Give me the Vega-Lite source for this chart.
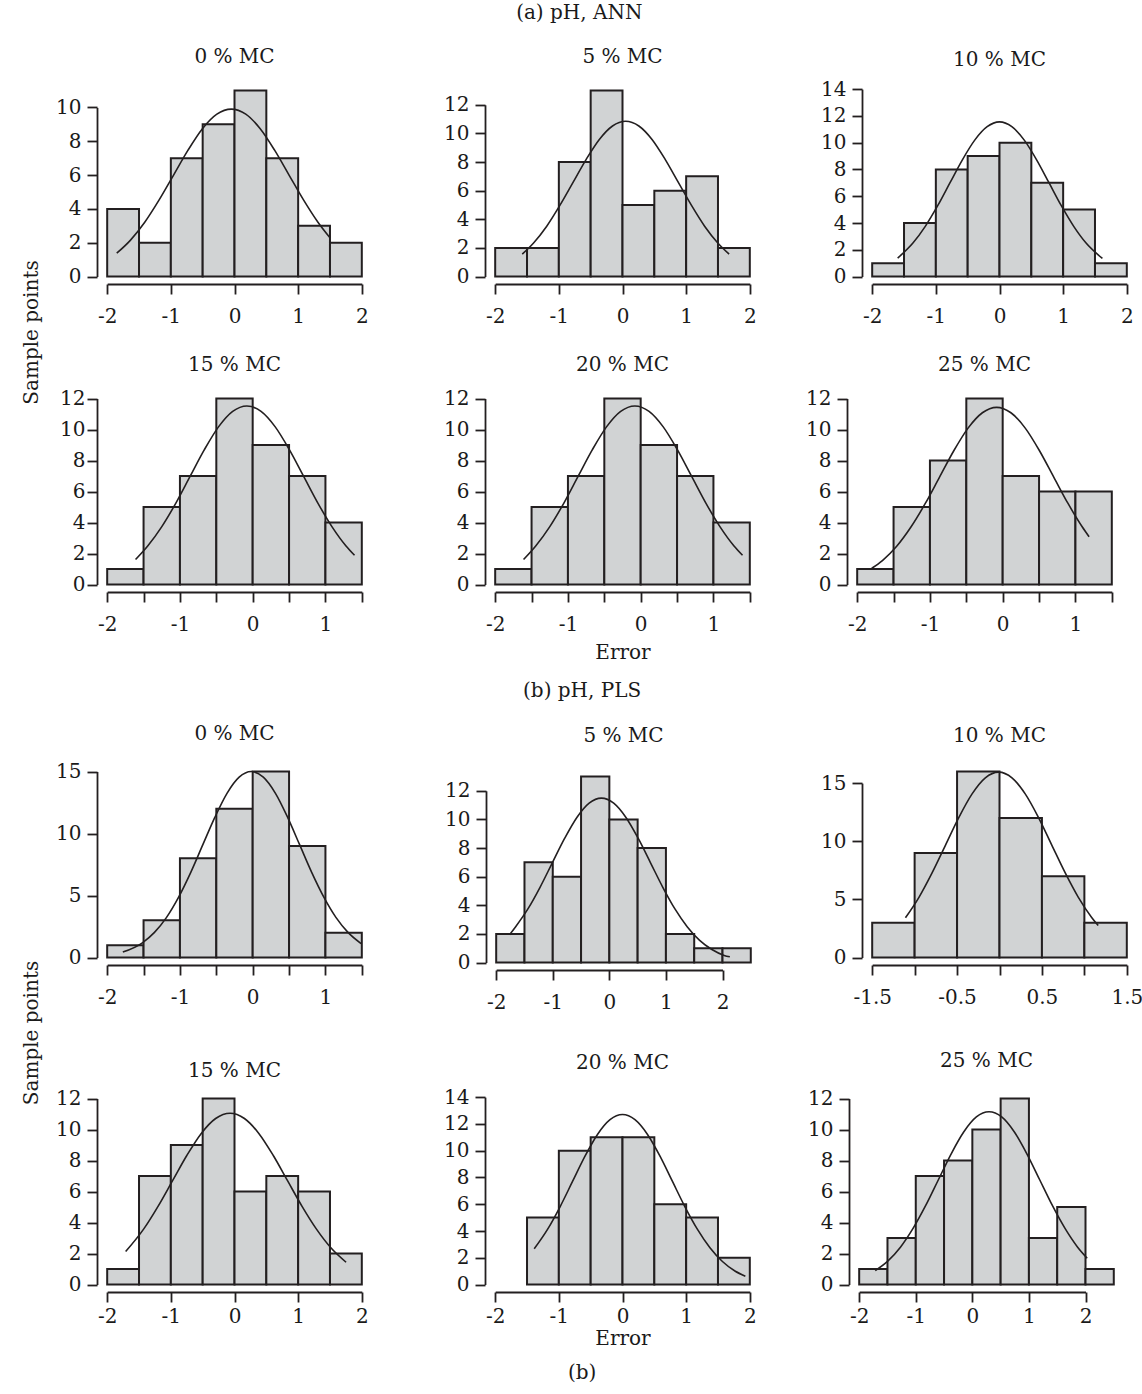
{
"$schema": "https://vega.github.io/schema/vega-lite/v6.json",
"padding": {"left": 21, "top": 3, "right": 0, "bottom": 0},
"background": "white",
"datasets": {
"bars": [
{"p":"A1","x0":-2,"x1":-1.5,"n":4},{"p":"A1","x0":-1.5,"x1":-1,"n":2},{"p":"A1","x0":-1,"x1":-0.5,"n":7},{"p":"A1","x0":-0.5,"x1":0,"n":9},{"p":"A1","x0":0,"x1":0.5,"n":11},{"p":"A1","x0":0.5,"x1":1,"n":7},{"p":"A1","x0":1,"x1":1.5,"n":3},{"p":"A1","x0":1.5,"x1":2,"n":2},
{"p":"A2","x0":-2,"x1":-1.5,"n":2},{"p":"A2","x0":-1.5,"x1":-1,"n":2},{"p":"A2","x0":-1,"x1":-0.5,"n":8},{"p":"A2","x0":-0.5,"x1":0,"n":13},{"p":"A2","x0":0,"x1":0.5,"n":5},{"p":"A2","x0":0.5,"x1":1,"n":6},{"p":"A2","x0":1,"x1":1.5,"n":7},{"p":"A2","x0":1.5,"x1":2,"n":2},
{"p":"A3","x0":-2,"x1":-1.5,"n":1},{"p":"A3","x0":-1.5,"x1":-1,"n":4},{"p":"A3","x0":-1,"x1":-0.5,"n":8},{"p":"A3","x0":-0.5,"x1":0,"n":9},{"p":"A3","x0":0,"x1":0.5,"n":10},{"p":"A3","x0":0.5,"x1":1,"n":7},{"p":"A3","x0":1,"x1":1.5,"n":5},{"p":"A3","x0":1.5,"x1":2,"n":1},
{"p":"A4","x0":-2,"x1":-1.5,"n":1},{"p":"A4","x0":-1.5,"x1":-1,"n":5},{"p":"A4","x0":-1,"x1":-0.5,"n":7},{"p":"A4","x0":-0.5,"x1":0,"n":12},{"p":"A4","x0":0,"x1":0.5,"n":9},{"p":"A4","x0":0.5,"x1":1,"n":7},{"p":"A4","x0":1,"x1":1.5,"n":4},
{"p":"A5","x0":-2,"x1":-1.5,"n":1},{"p":"A5","x0":-1.5,"x1":-1,"n":5},{"p":"A5","x0":-1,"x1":-0.5,"n":7},{"p":"A5","x0":-0.5,"x1":0,"n":12},{"p":"A5","x0":0,"x1":0.5,"n":9},{"p":"A5","x0":0.5,"x1":1,"n":7},{"p":"A5","x0":1,"x1":1.5,"n":4},
{"p":"A6","x0":-2,"x1":-1.5,"n":1},{"p":"A6","x0":-1.5,"x1":-1,"n":5},{"p":"A6","x0":-1,"x1":-0.5,"n":8},{"p":"A6","x0":-0.5,"x1":0,"n":12},{"p":"A6","x0":0,"x1":0.5,"n":7},{"p":"A6","x0":0.5,"x1":1,"n":6},{"p":"A6","x0":1,"x1":1.5,"n":6},
{"p":"B1","x0":-2,"x1":-1.5,"n":1},{"p":"B1","x0":-1.5,"x1":-1,"n":3},{"p":"B1","x0":-1,"x1":-0.5,"n":8},{"p":"B1","x0":-0.5,"x1":0,"n":12},{"p":"B1","x0":0,"x1":0.5,"n":15},{"p":"B1","x0":0.5,"x1":1,"n":9},{"p":"B1","x0":1,"x1":1.5,"n":2},
{"p":"B2","x0":-2,"x1":-1.5,"n":2},{"p":"B2","x0":-1.5,"x1":-1,"n":7},{"p":"B2","x0":-1,"x1":-0.5,"n":6},{"p":"B2","x0":-0.5,"x1":0,"n":13},{"p":"B2","x0":0,"x1":0.5,"n":10},{"p":"B2","x0":0.5,"x1":1,"n":8},{"p":"B2","x0":1,"x1":1.5,"n":2},{"p":"B2","x0":1.5,"x1":2,"n":1},{"p":"B2","x0":2,"x1":2.5,"n":1},
{"p":"B3","x0":-1.5,"x1":-1,"n":3},{"p":"B3","x0":-1,"x1":-0.5,"n":9},{"p":"B3","x0":-0.5,"x1":0,"n":16},{"p":"B3","x0":0,"x1":0.5,"n":12},{"p":"B3","x0":0.5,"x1":1,"n":7},{"p":"B3","x0":1,"x1":1.5,"n":3},
{"p":"B4","x0":-2,"x1":-1.5,"n":1},{"p":"B4","x0":-1.5,"x1":-1,"n":7},{"p":"B4","x0":-1,"x1":-0.5,"n":9},{"p":"B4","x0":-0.5,"x1":0,"n":12},{"p":"B4","x0":0,"x1":0.5,"n":6},{"p":"B4","x0":0.5,"x1":1,"n":7},{"p":"B4","x0":1,"x1":1.5,"n":6},{"p":"B4","x0":1.5,"x1":2,"n":2},
{"p":"B5","x0":-1.5,"x1":-1,"n":5},{"p":"B5","x0":-1,"x1":-0.5,"n":10},{"p":"B5","x0":-0.5,"x1":0,"n":11},{"p":"B5","x0":0,"x1":0.5,"n":11},{"p":"B5","x0":0.5,"x1":1,"n":6},{"p":"B5","x0":1,"x1":1.5,"n":5},{"p":"B5","x0":1.5,"x1":2,"n":2},
{"p":"B6","x0":-2,"x1":-1.5,"n":1},{"p":"B6","x0":-1.5,"x1":-1,"n":3},{"p":"B6","x0":-1,"x1":-0.5,"n":7},{"p":"B6","x0":-0.5,"x1":0,"n":8},{"p":"B6","x0":0,"x1":0.5,"n":10},{"p":"B6","x0":0.5,"x1":1,"n":12},{"p":"B6","x0":1,"x1":1.5,"n":3},{"p":"B6","x0":1.5,"x1":2,"n":5},{"p":"B6","x0":2,"x1":2.5,"n":1}
],
"curves": [
{"p":"A1","x":-1.85,"y":1.38},{"p":"A1","x":-1.637,"y":2.14},{"p":"A1","x":-1.41,"y":3.21},{"p":"A1","x":-1.184,"y":4.53},{"p":"A1","x":-0.957,"y":6.0},{"p":"A1","x":-0.73,"y":7.47},{"p":"A1","x":-0.504,"y":8.74},{"p":"A1","x":-0.277,"y":9.6},{"p":"A1","x":-0.05,"y":9.9},{"p":"A1","x":0.177,"y":9.6},{"p":"A1","x":0.404,"y":8.74},{"p":"A1","x":0.63,"y":7.47},{"p":"A1","x":0.857,"y":6.0},{"p":"A1","x":1.084,"y":4.53},{"p":"A1","x":1.311,"y":3.21},{"p":"A1","x":1.5,"y":2.29},
{"p":"A2","x":-1.575,"y":1.57},{"p":"A2","x":-1.397,"y":2.35},{"p":"A2","x":-1.19,"y":3.52},{"p":"A2","x":-0.984,"y":4.97},{"p":"A2","x":-0.777,"y":6.58},{"p":"A2","x":-0.57,"y":8.19},{"p":"A2","x":-0.364,"y":9.58},{"p":"A2","x":-0.157,"y":10.52},{"p":"A2","x":0.05,"y":10.85},{"p":"A2","x":0.257,"y":10.52},{"p":"A2","x":0.464,"y":9.58},{"p":"A2","x":0.67,"y":8.19},{"p":"A2","x":0.877,"y":6.58},{"p":"A2","x":1.084,"y":4.97},{"p":"A2","x":1.29,"y":3.52},{"p":"A2","x":1.497,"y":2.35},{"p":"A2","x":1.675,"y":1.57},
{"p":"A3","x":-1.6,"y":1.38},{"p":"A3","x":-1.36,"y":2.5},{"p":"A3","x":-1.166,"y":3.75},{"p":"A3","x":-0.971,"y":5.29},{"p":"A3","x":-0.777,"y":7.01},{"p":"A3","x":-0.583,"y":8.72},{"p":"A3","x":-0.389,"y":10.19},{"p":"A3","x":-0.194,"y":11.19},{"p":"A3","x":0,"y":11.55},{"p":"A3","x":0.194,"y":11.19},{"p":"A3","x":0.389,"y":10.19},{"p":"A3","x":0.583,"y":8.72},{"p":"A3","x":0.777,"y":7.01},{"p":"A3","x":0.971,"y":5.29},{"p":"A3","x":1.166,"y":3.75},{"p":"A3","x":1.36,"y":2.5},{"p":"A3","x":1.617,"y":1.35},
{"p":"A4","x":-1.61,"y":1.62},{"p":"A4","x":-1.443,"y":2.49},{"p":"A4","x":-1.249,"y":3.74},{"p":"A4","x":-1.054,"y":5.27},{"p":"A4","x":-0.859,"y":6.99},{"p":"A4","x":-0.664,"y":8.7},{"p":"A4","x":-0.47,"y":10.17},{"p":"A4","x":-0.275,"y":11.17},{"p":"A4","x":-0.08,"y":11.52},{"p":"A4","x":0.115,"y":11.17},{"p":"A4","x":0.31,"y":10.17},{"p":"A4","x":0.504,"y":8.7},{"p":"A4","x":0.699,"y":6.99},{"p":"A4","x":0.894,"y":5.27},{"p":"A4","x":1.089,"y":3.74},{"p":"A4","x":1.283,"y":2.49},{"p":"A4","x":1.4,"y":1.89},
{"p":"A5","x":-1.61,"y":1.62},{"p":"A5","x":-1.443,"y":2.49},{"p":"A5","x":-1.249,"y":3.74},{"p":"A5","x":-1.054,"y":5.27},{"p":"A5","x":-0.859,"y":6.99},{"p":"A5","x":-0.664,"y":8.7},{"p":"A5","x":-0.47,"y":10.17},{"p":"A5","x":-0.275,"y":11.17},{"p":"A5","x":-0.08,"y":11.52},{"p":"A5","x":0.115,"y":11.17},{"p":"A5","x":0.31,"y":10.17},{"p":"A5","x":0.504,"y":8.7},{"p":"A5","x":0.699,"y":6.99},{"p":"A5","x":0.894,"y":5.27},{"p":"A5","x":1.089,"y":3.74},{"p":"A5","x":1.283,"y":2.49},{"p":"A5","x":1.4,"y":1.89},
{"p":"A6","x":-1.8,"y":1.05},{"p":"A6","x":-1.653,"y":1.55},{"p":"A6","x":-1.457,"y":2.47},{"p":"A6","x":-1.261,"y":3.71},{"p":"A6","x":-1.064,"y":5.23},{"p":"A6","x":-0.868,"y":6.93},{"p":"A6","x":-0.672,"y":8.63},{"p":"A6","x":-0.476,"y":10.09},{"p":"A6","x":-0.279,"y":11.08},{"p":"A6","x":-0.083,"y":11.43},{"p":"A6","x":0.113,"y":11.08},{"p":"A6","x":0.31,"y":10.09},{"p":"A6","x":0.506,"y":8.63},{"p":"A6","x":0.702,"y":6.93},{"p":"A6","x":0.898,"y":5.23},{"p":"A6","x":1.095,"y":3.71},{"p":"A6","x":1.188,"y":3.08},
{"p":"B1","x":-1.785,"y":0.44},{"p":"B1","x":-1.516,"y":1.19},{"p":"B1","x":-1.35,"y":2.03},{"p":"B1","x":-1.184,"y":3.24},{"p":"B1","x":-1.018,"y":4.87},{"p":"B1","x":-0.851,"y":6.87},{"p":"B1","x":-0.685,"y":9.1},{"p":"B1","x":-0.519,"y":11.32},{"p":"B1","x":-0.353,"y":13.24},{"p":"B1","x":-0.186,"y":14.54},{"p":"B1","x":-0.02,"y":15.0},{"p":"B1","x":0.146,"y":14.54},{"p":"B1","x":0.313,"y":13.24},{"p":"B1","x":0.479,"y":11.32},{"p":"B1","x":0.645,"y":9.1},{"p":"B1","x":0.811,"y":6.87},{"p":"B1","x":0.978,"y":4.87},{"p":"B1","x":1.144,"y":3.24},{"p":"B1","x":1.31,"y":2.03},{"p":"B1","x":1.49,"y":1.13},
{"p":"B2","x":-1.763,"y":1.95},{"p":"B2","x":-1.659,"y":2.49},{"p":"B2","x":-1.442,"y":3.73},{"p":"B2","x":-1.225,"y":5.26},{"p":"B2","x":-1.008,"y":6.97},{"p":"B2","x":-0.791,"y":8.67},{"p":"B2","x":-0.574,"y":10.14},{"p":"B2","x":-0.357,"y":11.14},{"p":"B2","x":-0.14,"y":11.49},{"p":"B2","x":0.077,"y":11.14},{"p":"B2","x":0.294,"y":10.14},{"p":"B2","x":0.511,"y":8.67},{"p":"B2","x":0.728,"y":6.97},{"p":"B2","x":0.945,"y":5.26},{"p":"B2","x":1.162,"y":3.73},{"p":"B2","x":1.379,"y":2.49},{"p":"B2","x":1.596,"y":1.55},{"p":"B2","x":1.813,"y":0.91},{"p":"B2","x":2.03,"y":0.5},{"p":"B2","x":2.13,"y":0.4},
{"p":"B3","x":-1.108,"y":3.42},{"p":"B3","x":-0.949,"y":5.18},{"p":"B3","x":-0.793,"y":7.3},{"p":"B3","x":-0.636,"y":9.67},{"p":"B3","x":-0.48,"y":12.03},{"p":"B3","x":-0.323,"y":14.07},{"p":"B3","x":-0.167,"y":15.45},{"p":"B3","x":-0.01,"y":15.94},{"p":"B3","x":0.147,"y":15.45},{"p":"B3","x":0.303,"y":14.07},{"p":"B3","x":0.46,"y":12.03},{"p":"B3","x":0.616,"y":9.67},{"p":"B3","x":0.773,"y":7.3},{"p":"B3","x":0.929,"y":5.18},{"p":"B3","x":1.086,"y":3.45},{"p":"B3","x":1.163,"y":2.75},
{"p":"B4","x":-1.71,"y":2.13},{"p":"B4","x":-1.425,"y":3.59},{"p":"B4","x":-1.199,"y":5.06},{"p":"B4","x":-0.973,"y":6.7},{"p":"B4","x":-0.747,"y":8.34},{"p":"B4","x":-0.522,"y":9.75},{"p":"B4","x":-0.296,"y":10.71},{"p":"B4","x":-0.07,"y":11.05},{"p":"B4","x":0.156,"y":10.71},{"p":"B4","x":0.382,"y":9.75},{"p":"B4","x":0.607,"y":8.34},{"p":"B4","x":0.833,"y":6.7},{"p":"B4","x":1.059,"y":5.06},{"p":"B4","x":1.285,"y":3.59},{"p":"B4","x":1.51,"y":2.39},{"p":"B4","x":1.753,"y":1.44},
{"p":"B5","x":-1.387,"y":2.67},{"p":"B5","x":-1.178,"y":4.12},{"p":"B5","x":-0.981,"y":5.81},{"p":"B5","x":-0.785,"y":7.7},{"p":"B5","x":-0.589,"y":9.59},{"p":"B5","x":-0.393,"y":11.21},{"p":"B5","x":-0.196,"y":12.31},{"p":"B5","x":0,"y":12.7},{"p":"B5","x":0.196,"y":12.31},{"p":"B5","x":0.393,"y":11.21},{"p":"B5","x":0.589,"y":9.59},{"p":"B5","x":0.785,"y":7.7},{"p":"B5","x":0.981,"y":5.81},{"p":"B5","x":1.178,"y":4.12},{"p":"B5","x":1.374,"y":2.75},{"p":"B5","x":1.57,"y":1.72},{"p":"B5","x":1.766,"y":1.01},{"p":"B5","x":1.93,"y":0.62},
{"p":"B6","x":-1.716,"y":0.9},{"p":"B6","x":-1.495,"y":1.51},{"p":"B6","x":-1.271,"y":2.41},{"p":"B6","x":-1.048,"y":3.62},{"p":"B6","x":-0.824,"y":5.1},{"p":"B6","x":-0.6,"y":6.76},{"p":"B6","x":-0.376,"y":8.42},{"p":"B6","x":-0.153,"y":9.84},{"p":"B6","x":0.071,"y":10.81},{"p":"B6","x":0.295,"y":11.15},{"p":"B6","x":0.519,"y":10.81},{"p":"B6","x":0.743,"y":9.84},{"p":"B6","x":0.966,"y":8.42},{"p":"B6","x":1.19,"y":6.76},{"p":"B6","x":1.414,"y":5.1},{"p":"B6","x":1.638,"y":3.62},{"p":"B6","x":1.861,"y":2.41},{"p":"B6","x":2.03,"y":1.7}
]
},
"title": {"text": "(b)", "orient": "bottom", "anchor": "middle", "frame": "bounds", "offset": 14},
"spacing": 18,
"vconcat": [
{"title": {"text": "(a) pH, ANN", "anchor": "middle", "offset": 24},
 "vconcat": [
 {"title": {"text": "Sample points", "orient": "left", "anchor": "middle", "offset": 14, "dx": 22},
  "spacing": 28,
  "vconcat": [
  {"spacing": 40, "hconcat": [
   {"width": 306, "height": 201, "title": {"text": "0 % MC", "anchor": "start", "align": "center", "dx": 137.5, "frame": "group", "offset": 0, "baseline": "alphabetic"},
    "layer": [
     {"data": {"name": "bars"}, "transform": [{"filter": "datum.p === 'A1'"}], "mark": {"type": "rect", "fill": "#d1d3d4", "stroke": "#231f20", "strokeWidth": 2},
      "encoding": {"x": {"field": "x0", "type": "quantitative", "scale": {"domain": [-2, 2], "range": [10.19, 264.81], "nice": false, "zero": false}, "axis": {"values": [-2, -1, 0, 1, 2], "title": null, "labelExpr": "toString(datum.value)"}},
       "x2": {"field": "x1"},
       "y": {"field": "n", "type": "quantitative", "scale": {"domain": [0, 10], "range": [193.56, 24.4], "nice": false, "zero": false}, "axis": {"values": [0, 2, 4, 6, 8, 10], "title": null, "labelExpr": "toString(datum.value)"}},
       "y2": {"datum": 0}}},
     {"data": {"name": "curves"}, "transform": [{"filter": "datum.p === 'A1'"}], "mark": {"type": "line", "color": "#231f20", "strokeWidth": 1.6, "interpolate": "monotone"},
      "encoding": {"x": {"field": "x", "type": "quantitative"}, "y": {"field": "y", "type": "quantitative"}}}
    ]},
   {"width": 295, "height": 201, "title": {"text": "5 % MC", "anchor": "start", "align": "center", "dx": 137.5, "frame": "group", "offset": 0, "baseline": "alphabetic"},
    "layer": [
     {"data": {"name": "bars"}, "transform": [{"filter": "datum.p === 'A2'"}], "mark": {"type": "rect", "fill": "#d1d3d4", "stroke": "#231f20", "strokeWidth": 2},
      "encoding": {"x": {"field": "x0", "type": "quantitative", "scale": {"domain": [-2, 2], "range": [10.19, 264.81], "nice": false, "zero": false}, "axis": {"values": [-2, -1, 0, 1, 2], "title": null, "labelExpr": "toString(datum.value)"}},
       "x2": {"field": "x1"},
       "y": {"field": "n", "type": "quantitative", "scale": {"domain": [0, 12], "range": [193.56, 21.8], "nice": false, "zero": false}, "axis": {"values": [0, 2, 4, 6, 8, 10, 12], "title": null, "labelExpr": "toString(datum.value)"}},
       "y2": {"datum": 0}}},
     {"data": {"name": "curves"}, "transform": [{"filter": "datum.p === 'A2'"}], "mark": {"type": "line", "color": "#231f20", "strokeWidth": 1.6, "interpolate": "monotone"},
      "encoding": {"x": {"field": "x", "type": "quantitative"}, "y": {"field": "y", "type": "quantitative"}}}
    ]},
   {"width": 275, "height": 201, "title": {"text": "10 % MC", "anchor": "start", "align": "center", "dx": 137.5, "frame": "group", "offset": -7, "baseline": "alphabetic"},
    "layer": [
     {"data": {"name": "bars"}, "transform": [{"filter": "datum.p === 'A3'"}], "mark": {"type": "rect", "fill": "#d1d3d4", "stroke": "#231f20", "strokeWidth": 2},
      "encoding": {"x": {"field": "x0", "type": "quantitative", "scale": {"domain": [-2, 2], "range": [10.19, 264.81], "nice": false, "zero": false}, "axis": {"values": [-2, -1, 0, 1, 2], "title": null, "labelExpr": "toString(datum.value)"}},
       "x2": {"field": "x1"},
       "y": {"field": "n", "type": "quantitative", "scale": {"domain": [0, 14], "range": [193.56, 6.1], "nice": false, "zero": false}, "axis": {"values": [0, 2, 4, 6, 8, 10, 12, 14], "title": null, "labelExpr": "toString(datum.value)"}},
       "y2": {"datum": 0}}},
     {"data": {"name": "curves"}, "transform": [{"filter": "datum.p === 'A3'"}], "mark": {"type": "line", "color": "#231f20", "strokeWidth": 1.6, "interpolate": "monotone"},
      "encoding": {"x": {"field": "x", "type": "quantitative"}, "y": {"field": "y", "type": "quantitative"}}}
    ]}
  ]},
  {"spacing": 40, "hconcat": [
   {"width": 306, "height": 201, "title": {"text": "15 % MC", "anchor": "start", "align": "center", "dx": 137.5, "frame": "group", "offset": -2, "baseline": "alphabetic"},
    "layer": [
     {"data": {"name": "bars"}, "transform": [{"filter": "datum.p === 'A4'"}], "mark": {"type": "rect", "fill": "#d1d3d4", "stroke": "#231f20", "strokeWidth": 2},
      "encoding": {"x": {"field": "x0", "type": "quantitative", "scale": {"domain": [-2, 1.5], "range": [10.19, 264.81], "nice": false, "zero": false}, "axis": {"values": [-2, -1.5, -1, -0.5, 0, 0.5, 1, 1.5], "title": null, "labelExpr": "datum.value % 1 === 0 ? toString(datum.value) : ''"}},
       "x2": {"field": "x1"},
       "y": {"field": "n", "type": "quantitative", "scale": {"domain": [0, 12], "range": [193.56, 7.5], "nice": false, "zero": false}, "axis": {"values": [0, 2, 4, 6, 8, 10, 12], "title": null, "labelPadding": 2, "labelExpr": "toString(datum.value)"}},
       "y2": {"datum": 0}}},
     {"data": {"name": "curves"}, "transform": [{"filter": "datum.p === 'A4'"}], "mark": {"type": "line", "color": "#231f20", "strokeWidth": 1.6, "interpolate": "monotone"},
      "encoding": {"x": {"field": "x", "type": "quantitative"}, "y": {"field": "y", "type": "quantitative"}}}
    ]},
   {"width": 280, "height": 201, "title": {"text": "20 % MC", "anchor": "start", "align": "center", "dx": 137.5, "frame": "group", "offset": -2, "baseline": "alphabetic"},
    "layer": [
     {"data": {"name": "bars"}, "transform": [{"filter": "datum.p === 'A5'"}], "mark": {"type": "rect", "fill": "#d1d3d4", "stroke": "#231f20", "strokeWidth": 2},
      "encoding": {"x": {"field": "x0", "type": "quantitative", "scale": {"domain": [-2, 1.5], "range": [10.19, 264.81], "nice": false, "zero": false}, "axis": {"values": [-2, -1.5, -1, -0.5, 0, 0.5, 1, 1.5], "title": "Error", "titlePadding": 8, "labelExpr": "datum.value % 1 === 0 ? toString(datum.value) : ''"}},
       "x2": {"field": "x1"},
       "y": {"field": "n", "type": "quantitative", "scale": {"domain": [0, 12], "range": [193.56, 7.5], "nice": false, "zero": false}, "axis": {"values": [0, 2, 4, 6, 8, 10, 12], "title": null, "labelExpr": "toString(datum.value)"}},
       "y2": {"datum": 0}}},
     {"data": {"name": "curves"}, "transform": [{"filter": "datum.p === 'A5'"}], "mark": {"type": "line", "color": "#231f20", "strokeWidth": 1.6, "interpolate": "monotone"},
      "encoding": {"x": {"field": "x", "type": "quantitative"}, "y": {"field": "y", "type": "quantitative"}}}
    ]},
   {"width": 275, "height": 201, "title": {"text": "25 % MC", "anchor": "start", "align": "center", "dx": 137.5, "frame": "group", "offset": -2, "baseline": "alphabetic"},
    "layer": [
     {"data": {"name": "bars"}, "transform": [{"filter": "datum.p === 'A6'"}], "mark": {"type": "rect", "fill": "#d1d3d4", "stroke": "#231f20", "strokeWidth": 2},
      "encoding": {"x": {"field": "x0", "type": "quantitative", "scale": {"domain": [-2, 1.5], "range": [10.19, 264.81], "nice": false, "zero": false}, "axis": {"values": [-2, -1.5, -1, -0.5, 0, 0.5, 1, 1.5], "title": null, "labelExpr": "datum.value % 1 === 0 ? toString(datum.value) : ''"}},
       "x2": {"field": "x1"},
       "y": {"field": "n", "type": "quantitative", "scale": {"domain": [0, 12], "range": [193.56, 7.5], "nice": false, "zero": false}, "axis": {"values": [0, 2, 4, 6, 8, 10, 12], "title": null, "labelExpr": "toString(datum.value)"}},
       "y2": {"datum": 0}}},
     {"data": {"name": "curves"}, "transform": [{"filter": "datum.p === 'A6'"}], "mark": {"type": "line", "color": "#231f20", "strokeWidth": 1.6, "interpolate": "monotone"},
      "encoding": {"x": {"field": "x", "type": "quantitative"}, "y": {"field": "y", "type": "quantitative"}}}
    ]}
  ]}
  ]}
 ]},
{"title": {"text": "(b) pH, PLS", "anchor": "middle", "offset": 23},
 "vconcat": [
 {"title": {"text": "Sample points", "orient": "left", "anchor": "middle", "offset": 14, "dx": 3},
  "spacing": 38,
  "vconcat": [
  {"spacing": 40, "hconcat": [
   {"width": 307, "height": 201, "title": {"text": "0 % MC", "anchor": "start", "align": "center", "dx": 137.5, "frame": "group", "offset": 2, "baseline": "alphabetic"},
    "layer": [
     {"data": {"name": "bars"}, "transform": [{"filter": "datum.p === 'B1'"}], "mark": {"type": "rect", "fill": "#d1d3d4", "stroke": "#231f20", "strokeWidth": 2},
      "encoding": {"x": {"field": "x0", "type": "quantitative", "scale": {"domain": [-2, 1.5], "range": [10.19, 264.81], "nice": false, "zero": false}, "axis": {"values": [-2, -1.5, -1, -0.5, 0, 0.5, 1, 1.5], "title": null, "labelExpr": "datum.value % 1 === 0 ? toString(datum.value) : ''"}},
       "x2": {"field": "x1"},
       "y": {"field": "n", "type": "quantitative", "scale": {"domain": [0, 15], "range": [193.56, 7.5], "nice": false, "zero": false}, "axis": {"values": [0, 5, 10, 15], "title": null, "labelExpr": "toString(datum.value)"}},
       "y2": {"datum": 0}}},
     {"data": {"name": "curves"}, "transform": [{"filter": "datum.p === 'B1'"}], "mark": {"type": "line", "color": "#231f20", "strokeWidth": 1.6, "interpolate": "monotone"},
      "encoding": {"x": {"field": "x", "type": "quantitative"}, "y": {"field": "y", "type": "quantitative"}}}
    ]},
   {"width": 294, "height": 201, "title": {"text": "5 % MC", "anchor": "start", "align": "center", "dx": 137.5, "frame": "group", "offset": 2, "baseline": "alphabetic"},
    "layer": [
     {"data": {"name": "bars"}, "transform": [{"filter": "datum.p === 'B2'"}], "mark": {"type": "rect", "fill": "#d1d3d4", "stroke": "#231f20", "strokeWidth": 2},
      "encoding": {"x": {"field": "x0", "type": "quantitative", "scale": {"domain": [-2, 2], "range": [10.19, 236.5], "nice": false, "zero": false}, "axis": {"values": [-2, -1, 0, 1, 2], "title": null, "offset": 5, "labelExpr": "toString(datum.value)"}},
       "x2": {"field": "x1"},
       "y": {"field": "n", "type": "quantitative", "scale": {"domain": [0, 12], "range": [198.56, 26.8], "nice": false, "zero": false}, "axis": {"values": [0, 2, 4, 6, 8, 10, 12], "title": null, "labelExpr": "toString(datum.value)"}},
       "y2": {"datum": 0}}},
     {"data": {"name": "curves"}, "transform": [{"filter": "datum.p === 'B2'"}], "mark": {"type": "line", "color": "#231f20", "strokeWidth": 1.6, "interpolate": "monotone"},
      "encoding": {"x": {"field": "x", "type": "quantitative"}, "y": {"field": "y", "type": "quantitative"}}}
    ]},
   {"width": 275, "height": 201, "title": {"text": "10 % MC", "anchor": "start", "align": "center", "dx": 137.5, "frame": "group", "offset": 2, "baseline": "alphabetic"},
    "layer": [
     {"data": {"name": "bars"}, "transform": [{"filter": "datum.p === 'B3'"}], "mark": {"type": "rect", "fill": "#d1d3d4", "stroke": "#231f20", "strokeWidth": 2},
      "encoding": {"x": {"field": "x0", "type": "quantitative", "scale": {"domain": [-1.5, 1.5], "range": [10.19, 264.81], "nice": false, "zero": false}, "axis": {"values": [-1.5, -1, -0.5, 0, 0.5, 1, 1.5], "title": null, "labelExpr": "datum.value % 1 !== 0 ? toString(datum.value) : ''"}},
       "x2": {"field": "x1"},
       "y": {"field": "n", "type": "quantitative", "scale": {"domain": [0, 15], "range": [193.56, 19.1], "nice": false, "zero": false}, "axis": {"values": [0, 5, 10, 15], "title": null, "labelExpr": "toString(datum.value)"}},
       "y2": {"datum": 0}}},
     {"data": {"name": "curves"}, "transform": [{"filter": "datum.p === 'B3'"}], "mark": {"type": "line", "color": "#231f20", "strokeWidth": 1.6, "interpolate": "monotone"},
      "encoding": {"x": {"field": "x", "type": "quantitative"}, "y": {"field": "y", "type": "quantitative"}}}
    ]}
  ]},
  {"spacing": 40, "hconcat": [
   {"width": 306, "height": 201, "title": {"text": "15 % MC", "anchor": "start", "align": "center", "dx": 137.5, "frame": "group", "offset": -8, "baseline": "alphabetic"},
    "layer": [
     {"data": {"name": "bars"}, "transform": [{"filter": "datum.p === 'B4'"}], "mark": {"type": "rect", "fill": "#d1d3d4", "stroke": "#231f20", "strokeWidth": 2},
      "encoding": {"x": {"field": "x0", "type": "quantitative", "scale": {"domain": [-2, 2], "range": [10.19, 264.81], "nice": false, "zero": false}, "axis": {"values": [-2, -1, 0, 1, 2], "title": null, "labelPadding": 4.5, "labelExpr": "toString(datum.value)"}},
       "x2": {"field": "x1"},
       "y": {"field": "n", "type": "quantitative", "scale": {"domain": [0, 12], "range": [193.56, 7.5], "nice": false, "zero": false}, "axis": {"values": [0, 2, 4, 6, 8, 10, 12], "title": null, "labelExpr": "toString(datum.value)"}},
       "y2": {"datum": 0}}},
     {"data": {"name": "curves"}, "transform": [{"filter": "datum.p === 'B4'"}], "mark": {"type": "line", "color": "#231f20", "strokeWidth": 1.6, "interpolate": "monotone"},
      "encoding": {"x": {"field": "x", "type": "quantitative"}, "y": {"field": "y", "type": "quantitative"}}}
    ]},
   {"width": 282, "height": 201, "title": {"text": "20 % MC", "anchor": "start", "align": "center", "dx": 137.5, "frame": "group", "offset": -2, "baseline": "alphabetic"},
    "layer": [
     {"data": {"name": "bars"}, "transform": [{"filter": "datum.p === 'B5'"}], "mark": {"type": "rect", "fill": "#d1d3d4", "stroke": "#231f20", "strokeWidth": 2},
      "encoding": {"x": {"field": "x0", "type": "quantitative", "scale": {"domain": [-2, 2], "range": [10.19, 264.81], "nice": false, "zero": false}, "axis": {"values": [-2, -1, 0, 1, 2], "title": "Error", "titlePadding": 2, "labelPadding": 4.5, "labelExpr": "toString(datum.value)"}},
       "x2": {"field": "x1"},
       "y": {"field": "n", "type": "quantitative", "scale": {"domain": [0, 14], "range": [193.56, 6.1], "nice": false, "zero": false}, "axis": {"values": [0, 2, 4, 6, 8, 10, 12, 14], "title": null, "labelExpr": "toString(datum.value)"}},
       "y2": {"datum": 0}}},
     {"data": {"name": "curves"}, "transform": [{"filter": "datum.p === 'B5'"}], "mark": {"type": "line", "color": "#231f20", "strokeWidth": 1.6, "interpolate": "monotone"},
      "encoding": {"x": {"field": "x", "type": "quantitative"}, "y": {"field": "y", "type": "quantitative"}}}
    ]},
   {"width": 275, "height": 201, "title": {"text": "25 % MC", "anchor": "start", "align": "center", "dx": 137.5, "frame": "group", "offset": 2, "baseline": "alphabetic"},
    "layer": [
     {"data": {"name": "bars"}, "transform": [{"filter": "datum.p === 'B6'"}], "mark": {"type": "rect", "fill": "#d1d3d4", "stroke": "#231f20", "strokeWidth": 2},
      "encoding": {"x": {"field": "x0", "type": "quantitative", "scale": {"domain": [-2, 2], "range": [10.19, 236.5], "nice": false, "zero": false}, "axis": {"values": [-2, -1, 0, 1, 2], "title": null, "labelPadding": 4.5, "labelExpr": "toString(datum.value)"}},
       "x2": {"field": "x1"},
       "y": {"field": "n", "type": "quantitative", "scale": {"domain": [0, 12], "range": [193.56, 7.5], "nice": false, "zero": false}, "axis": {"values": [0, 2, 4, 6, 8, 10, 12], "title": null, "labelExpr": "toString(datum.value)"}},
       "y2": {"datum": 0}}},
     {"data": {"name": "curves"}, "transform": [{"filter": "datum.p === 'B6'"}], "mark": {"type": "line", "color": "#231f20", "strokeWidth": 1.6, "interpolate": "monotone"},
      "encoding": {"x": {"field": "x", "type": "quantitative"}, "y": {"field": "y", "type": "quantitative"}}}
    ]}
  ]}
  ]}
 ]}
],
"config": {
 "font": "DejaVu Serif",
 "view": {"stroke": null},
 "title": {"font": "DejaVu Serif", "fontSize": 20, "fontWeight": "normal", "color": "#1a1a1a"},
 "axis": {"grid": false, "tickCount": 8, "domainColor": "#231f20", "domainWidth": 1.8, "tickColor": "#231f20", "tickWidth": 1.8, "tickSize": 10, "labelFont": "DejaVu Serif", "labelFontSize": 20, "labelColor": "#1a1a1a", "labelOverlap": false, "labelFlush": false, "labelBound": false, "titleFont": "DejaVu Serif", "titleFontSize": 20, "titleFontWeight": "normal", "titleColor": "#1a1a1a"},
 "axisX": {"labelPadding": 12, "titlePadding": 6},
 "axisY": {"labelPadding": 6}
}
}
